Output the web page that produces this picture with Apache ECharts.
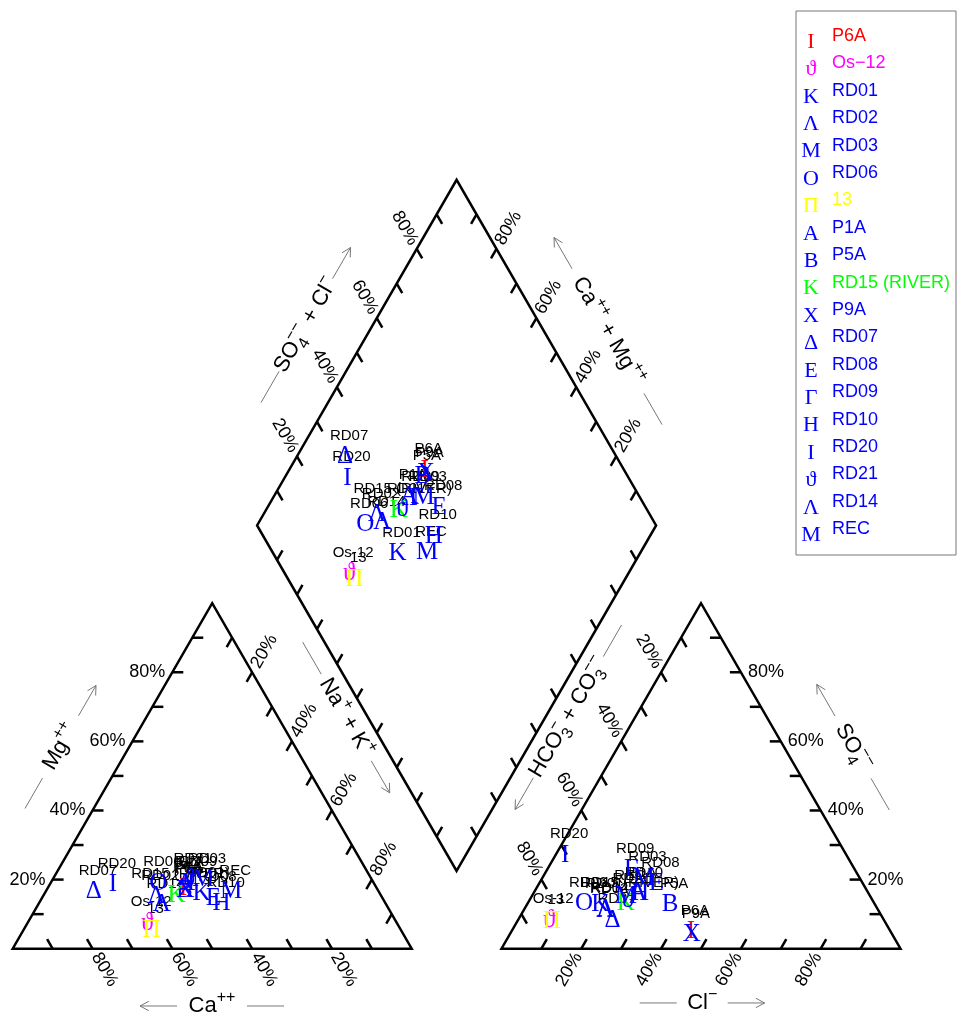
<!DOCTYPE html>
<html>
<head>
<meta charset="utf-8">
<title>Piper diagram</title>
<script src="https://cdn.jsdelivr.net/npm/echarts@6/dist/echarts.min.js"></script>
<style>
  html, body { margin: 0; padding: 0; background: #fff; }
  #chart { width: 967px; height: 1024px; }
</style>
</head>
<body>
<div id="chart"></div>
<script>
// samples, plotting glyphs and colours
const samples = ['P6A', 'Os\u221212', 'RD01', 'RD02', 'RD03', 'RD06', '13', 'P1A', 'P5A', 'RD15 (RIVER)',
  'P9A', 'RD07', 'RD08', 'RD09', 'RD10', 'RD20', 'RD21', 'RD14', 'REC']
const labels = ['P6A', 'Os-12', 'RD01', 'RD02', 'RD03', 'RD06', '13', 'P1A', 'P5A', 'RD15 (RIVER)',
  'P9A', 'RD07', 'RD08', 'RD09', 'RD10', 'RD20', 'RD21', 'RD14', 'REC']
const glyphs = ['\u0399', '\u03d1', '\u039a', '\u039b', '\u039c', '\u039f', '\u03a0', '\u0391', '\u0392', '\u039a',
  '\u03a7', '\u0394', '\u0395', '\u0393', '\u0397', '\u0399', '\u03d1', '\u039b', '\u039c']
const colors = ['#ff0000', '#ff00ff', '#0000ff', '#0000ff', '#0000ff', '#0000ff', '#ffff00', '#0000ff', '#0000ff', '#00ff00',
  '#0000ff', '#0000ff', '#0000ff', '#0000ff', '#0000ff', '#0000ff', '#0000ff', '#0000ff', '#0000ff']

// cations, % of meq
const ca = [48.5, 62.6, 44.7, 56.5, 42.3, 54.0, 62.5, 47.2, 48.5, 51.2, 48.2, 71.4, 42.4, 45.0, 41.1, 65.6, 45.9, 56.3, 37.0]
const mg = [17.5, 7.4, 16.0, 15.0, 20.0, 19.0, 5.4, 19.0, 17.0, 15.5, 17.0, 16.5, 14.6, 19.0, 13.1, 18.6, 20.0, 12.7, 16.5]
const naK = [34.0, 30.0, 39.3, 28.5, 37.7, 27.0, 32.1, 33.8, 34.5, 33.3, 34.8, 12.1, 43.0, 36.0, 45.8, 15.8, 34.1, 31.0, 46.5]
// anions, % of meq
const hco3 = [50.0, 83.9, 68.9, 68.4, 54.2, 72.8, 83.4, 57.7, 51.4, 62.3, 50.3, 68.0, 51.7, 56.1, 57.3, 70.5, 61.4, 68.2, 61.3]
const cl = [45.0, 7.8, 18.4, 20.4, 25.4, 14.2, 8.6, 26.3, 35.9, 24.6, 45.7, 23.7, 29.4, 21.1, 26.7, 2.4, 24.6, 20.4, 23.7]
const so4 = [5.0, 8.3, 12.7, 11.2, 20.4, 13.0, 8.0, 16.0, 12.7, 13.1, 4.0, 8.3, 18.9, 22.8, 16.0, 27.1, 14.0, 11.4, 15.0]

const tickValues = [10, 20, 30, 40, 50, 60, 70, 80, 90]
const tickLabels = [20, 40, 60, 80]

const SQ = Math.sqrt(3) / 2
const GAP = 0.225
const AX = 1 + GAP
const BOT = [1 + GAP / 2, GAP * SQ]
const LFT = [BOT[0] - 0.5, BOT[1] + SQ]
const RGT = [BOT[0] + 0.5, BOT[1] + SQ]
const TOP = [BOT[0], BOT[1] + 2 * SQ]
const TICK = 11

const SANS = '"Liberation Sans", Arial, Helvetica, sans-serif'
const SERIF = '"Liberation Serif", "DejaVu Serif", "Times New Roman", serif'

const cationPt = i => {
  const n = naK[i] / 100, m = mg[i] / 100
  return [n + m / 2, m * SQ]
}
const anionPt = i => {
  const c = cl[i] / 100, s = so4[i] / 100
  return [AX + c + s / 2, s * SQ]
}
const diamondPt = i => {
  const C = (ca[i] + mg[i]) / 100, S = (cl[i] + so4[i]) / 100
  return [BOT[0] + (S - C) / 2, BOT[1] + (S + C) * SQ]
}

const points = []
samples.forEach((s, i) => {
  points.push([...cationPt(i), i], [...anionPt(i), i], [...diamondPt(i), i])
})

// sides: value goes from a (0%) to b (100%); tick points inward
const sides = [
  { a: [0, 0], b: [0.5, SQ], tick: [1, 0], lab: { dir: [-1, 0], rot: 0, align: 'right', gap: 7 } },
  { a: [0.5, SQ], b: [1, 0], tick: [-0.5, -SQ], lab: { dir: [0.5, SQ], rot: 60, align: 'left', gap: 6 } },
  { a: [1, 0], b: [0, 0], tick: [-0.5, SQ], lab: { dir: [0.5, -SQ], rot: -60, align: 'left', gap: 6 } },
  { a: [AX, 0], b: [AX + 1, 0], tick: [0.5, SQ], lab: { dir: [-0.5, -SQ], rot: 60, align: 'right', gap: 6 } },
  { a: [AX + 1, 0], b: [AX + 0.5, SQ], tick: [-1, 0], lab: { dir: [1, 0], rot: 0, align: 'left', gap: 7 } },
  { a: [AX + 0.5, SQ], b: [AX, 0], tick: [0.5, -SQ], lab: { dir: [-0.5, SQ], rot: -60, align: 'right', gap: 6 } },
  { a: LFT, b: TOP, tick: [0.5, -SQ], lab: { dir: [-0.5, SQ], rot: -60, align: 'right', gap: 6 } },
  { a: RGT, b: TOP, tick: [-0.5, -SQ], lab: { dir: [0.5, SQ], rot: 60, align: 'left', gap: 6 } },
  { a: BOT, b: LFT, tick: [0.5, SQ] },
  { a: BOT, b: RGT, tick: [-0.5, SQ] }
]

const titles = [
  { text: '{m|Ca}{p|++}', at: [0.4995, -0.1436], dir: [-1, 0], rot: 0, gap: 35, len: 37 },
  { text: '{m|Mg}{p|++}', at: [0.1198, 0.5056], dir: [0.5, SQ], rot: 60, gap: 36, len: 35 },
  { text: '{m|Na}{p|+}{m| + K}{p|+}', at: [0.8359, 0.5794], dir: [0.5, -SQ], rot: -60, gap: 50, len: 37 },
  { text: '{m|Cl}{p|\u2212}', at: [1.728, -0.136], dir: [1, 0], rot: 0, gap: 25.5, len: 37 },
  { text: '{m|SO}{b|4}{p|\u2212\u2212}', at: [2.106, 0.505], dir: [-0.5, SQ], rot: -60, gap: 36, len: 36.5 },
  { text: '{m|HCO}{b|3}{p|\u2212}{m| + CO}{b|3}{p|\u2212\u2212}', at: [1.3925, 0.5802], dir: [-0.5, -SQ], rot: 60, gap: 70, len: 36.5 },
  { text: '{m|SO}{b|4}{p|\u2212\u2212}{m| + Cl}{p|\u2212}', at: [0.7346, 1.5632], dir: [0.5, SQ], rot: 60, gap: 53.5, len: 36 },
  { text: '{m|Ca}{p|++}{m| + Mg}{p|++}', at: [1.492, 1.548], dir: [-0.5, SQ], rot: -60, gap: 72, len: 36 }
]

const titleRich = {
  m: { fontSize: 22, fontFamily: SANS, lineHeight: 32, align: 'left', verticalAlign: 'middle' },
  p: { fontSize: 16, fontFamily: SANS, lineHeight: 32, align: 'left', verticalAlign: 'top' },
  b: { fontSize: 16, fontFamily: SANS, lineHeight: 32, align: 'left', verticalAlign: 'bottom', width: 0 }
}

const renderFrame = (params, api) => {
  const kids = []
  const pen = { stroke: '#000', lineWidth: 2.5, fill: null }
  const grey = { stroke: '#777', lineWidth: 1 }
  const polys = [
    [[0, 0], [1, 0], [0.5, SQ]],
    [[AX, 0], [AX + 1, 0], [AX + 0.5, SQ]],
    [BOT, RGT, TOP, LFT]
  ]
  polys.forEach(pl => kids.push({ type: 'polygon', shape: { points: pl.map(p => api.coord(p)) }, style: pen }))

  sides.forEach(s => {
    tickValues.forEach(t => {
      const f = t / 100
      const p = api.coord([s.a[0] + f * (s.b[0] - s.a[0]), s.a[1] + f * (s.b[1] - s.a[1])])
      kids.push({
        type: 'line',
        shape: { x1: p[0], y1: p[1], x2: p[0] + s.tick[0] * TICK, y2: p[1] - s.tick[1] * TICK },
        style: { stroke: '#000', lineWidth: 2.5 }
      })
      if (s.lab && tickLabels.includes(t)) {
        const d = [s.lab.dir[0], -s.lab.dir[1]]
        kids.push({
          type: 'text',
          x: p[0] + d[0] * s.lab.gap,
          y: p[1] + d[1] * s.lab.gap,
          rotation: s.lab.rot * Math.PI / 180,
          style: {
            text: t + '%', fill: '#000', font: '18px ' + SANS,
            align: s.lab.align, verticalAlign: 'middle'
          }
        })
      }
    })
  })

  titles.forEach(tt => {
    const c = api.coord(tt.at)
    const d = [tt.dir[0], -tt.dir[1]]
    const seg = (from, to) => [c[0] + d[0] * from, c[1] + d[1] * from, c[0] + d[0] * to, c[1] + d[1] * to]
    const s1 = seg(-tt.gap, -tt.gap - tt.len)
    const s2 = seg(tt.gap, tt.gap + tt.len)
    kids.push({ type: 'line', shape: { x1: s1[0], y1: s1[1], x2: s1[2], y2: s1[3] }, style: grey })
    kids.push({ type: 'line', shape: { x1: s2[0], y1: s2[1], x2: s2[2], y2: s2[3] }, style: grey })
    // arrow head
    const tip = [s2[2], s2[3]]
    const head = 10, ang = 28 * Math.PI / 180
    ;[ang, -ang].forEach(a => {
      const bx = -(d[0] * Math.cos(a) - d[1] * Math.sin(a))
      const by = -(d[0] * Math.sin(a) + d[1] * Math.cos(a))
      kids.push({ type: 'line', shape: { x1: tip[0], y1: tip[1], x2: tip[0] + bx * head, y2: tip[1] + by * head }, style: grey })
    })
    kids.push({
      type: 'text', x: c[0], y: c[1], rotation: tt.rot * Math.PI / 180,
      style: { text: tt.text, rich: titleRich, fill: '#000', align: 'center', verticalAlign: 'middle', fontSize: 22, fontFamily: SANS }
    })
  })
  return { type: 'group', children: kids }
}

const legendTop = 36
const legendStep = 27.4
const legendItems = [{
  type: 'rect', shape: { x: 796, y: 11, width: 160, height: 544 },
  style: { fill: '#fff', stroke: '#777', lineWidth: 1 }
}]
samples.forEach((s, i) => {
  const y = legendTop + i * legendStep
  legendItems.push({
    type: 'text', x: 811, y: y + 6,
    style: { text: glyphs[i], fill: colors[i], font: '22px ' + SERIF, align: 'center', verticalAlign: 'middle' }
  })
  legendItems.push({
    type: 'text', x: 832, y: y,
    style: { text: s, fill: colors[i], font: '18px ' + SANS, align: 'left', verticalAlign: 'middle' }
  })
})

const chart = echarts.init(document.getElementById('chart'))

const option = {
  animation: false,
  backgroundColor: '#fff',
  grid: { left: 12.7, top: 179.8, width: 887.8, height: 768.9 },
  xAxis: { type: 'value', min: 0, max: 2 + GAP, show: false },
  yAxis: { type: 'value', min: 0, max: 768.9 / 399, show: false },
  graphic: { elements: legendItems },
  series: [
    {
      type: 'custom',
      silent: true,
      z: 1,
      data: [[0, 0]],
      renderItem: renderFrame
    },
    {
      type: 'custom',
      silent: true,
      z: 2,
      data: points,
      renderItem: (params, api) => {
        const p = api.coord([api.value(0), api.value(1)])
        const i = api.value(2)
        return {
          type: 'text', x: p[0] + 4, y: p[1] - 21,
          style: { text: labels[i], fill: '#000', font: '15px ' + SANS, align: 'center', verticalAlign: 'middle' }
        }
      }
    },
    {
      type: 'custom',
      silent: true,
      z: 3,
      data: points,
      renderItem: (params, api) => {
        const p = api.coord([api.value(0), api.value(1)])
        const i = api.value(2)
        return {
          type: 'text', x: p[0], y: p[1],
          style: { text: glyphs[i], fill: colors[i], font: '25px ' + SERIF, align: 'center', verticalAlign: 'middle' }
        }
      }
    }
  ]
}

chart.setOption(option)
</script>
</body>
</html>
